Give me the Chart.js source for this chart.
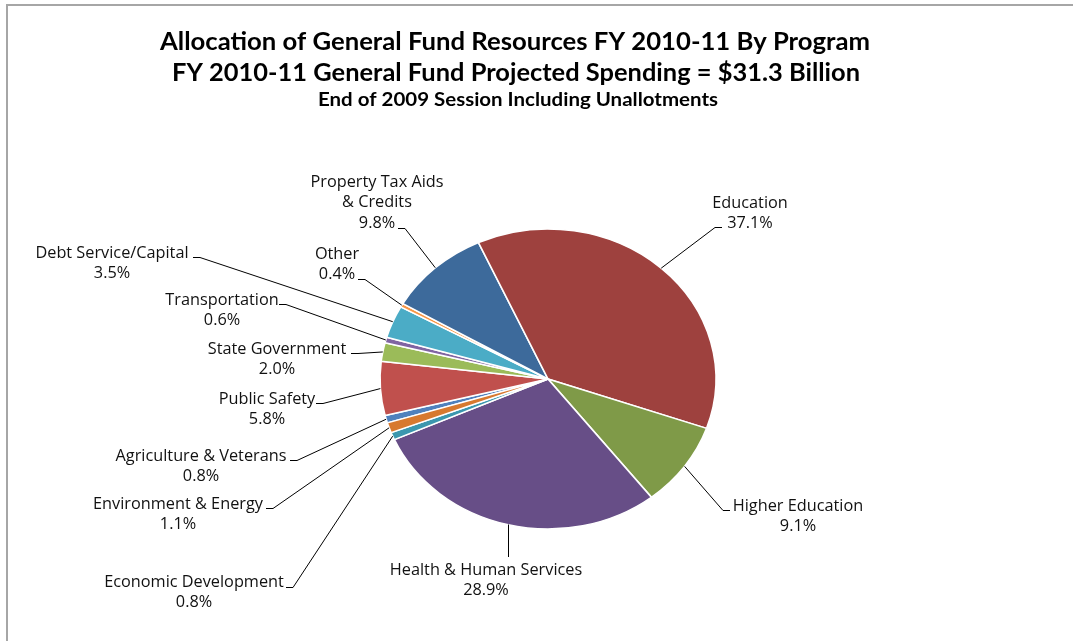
<!DOCTYPE html>
<html>
<head>
<meta charset="utf-8">
<script src="https://cdn.jsdelivr.net/npm/chart.js@4.4.0/dist/chart.umd.min.js"></script>
<style>
    html, body { margin: 0; padding: 0; background: #fff; }
    #wrap { width: 1073px; height: 641px; }
</style>
</head>
<body>
<div id="wrap"><canvas id="chartCanvas" width="1073" height="641"></canvas></div>
<script>
// Datos del grafico (en el orden de las porciones, sentido horario)
const programs = [
    "Agriculture & Veterans",
    "Public Safety",
    "State Government",
    "Transportation",
    "Debt Service/Capital",
    "Other",
    "Property Tax Aids\n& Credits",
    "Education",
    "Higher Education",
    "Health & Human Services",
    "Economic Development",
    "Environment & Energy"
];
const shares = [0.8, 5.8, 2.0, 0.6, 3.5, 0.4, 9.8, 37.1, 9.1, 28.9, 0.8, 1.1];
const sliceColors = [
    "#4F81BD", "#C0504D", "#9BBB59", "#8064A2", "#4BACC6", "#F79646",
    "#3D6A9B", "#9E413E", "#7F9A48", "#674E87", "#3B97AE", "#D7792F"
];
const titleLines = [
    "Allocation of General Fund Resources FY 2010-11 By Program",
    "FY 2010-11 General Fund Projected Spending = $31.3 Billion",
    "End of 2009 Session Including Unallotments"
];

// Posicion de las etiquetas: centro del texto, codo de la linea guia y lado del texto
const labelLayout = [
    { x: 201, y: 456, ex: 297, ey: 460, dir: -1 },
    { x: 267, y: 399, ex: 323, ey: 403, dir: -1 },
    { x: 277, y: 349, ex: 358, ey: 353, dir: -1 },
    { x: 222, y: 300, ex: 286, ey: 304, dir: -1 },
    { x: 112, y: 253, ex: 200, ey: 257, dir: -1 },
    { x: 337, y: 254, ex: 365, ey: 279, dir: -1 },
    { x: 377, y: 182, ex: 405, ey: 228, dir: -1 },
    { x: 750, y: 203, ex: 715, ey: 227, dir: 1 },
    { x: 798, y: 506, ex: 723, ey: 510, dir: 1 },
    { x: 486, y: 570, ex: 508, ey: 557, dir: 0 },
    { x: 194, y: 582, ex: 293, ey: 587, dir: -1 },
    { x: 178, y: 504, ex: 273, ey: 508, dir: -1 }
];
const titleLayout = [
    { x: 515, y: 42, w: 710, font: "bold 24px Lato" },
    { x: 516, y: 73, w: 688, font: "bold 24px Lato" },
    { x: 518, y: 100, w: 400, font: "bold 18px Lato" }
];
const stretchX = 1.12;   // la torta original esta estirada en horizontal

// Dibuja texto centrado ajustado a un ancho dado
function fitText(ctx, text, cx, cy, width, font) {
    ctx.font = font;
    const w = ctx.measureText(text).width;
    ctx.save();
    ctx.translate(cx, cy);
    ctx.scale(width / w, 1);
    ctx.fillText(text, 0, 0);
    ctx.restore();
}

const frameAndTitle = {
    id: "frameAndTitle",
    beforeDraw(chart) {
        const ctx = chart.ctx;
        ctx.save();
        ctx.fillStyle = "#fff";
        ctx.fillRect(0, 0, chart.width, chart.height);
        ctx.strokeStyle = "#A6A6A6";
        ctx.lineWidth = 2;
        ctx.strokeRect(7, 5, chart.width + 50, chart.height + 50);
        ctx.fillStyle = "#000";
        ctx.textAlign = "center";
        ctx.textBaseline = "middle";
        titleLines.forEach((line, i) => {
            const t = titleLayout[i];
            fitText(ctx, line, t.x, t.y, t.w, t.font);
        });
        ctx.restore();
    }
};

const stretchPie = {
    id: "stretchPie",
    beforeDatasetsDraw(chart) {
        const arc = chart.getDatasetMeta(0).data[0];
        const ctx = chart.ctx;
        ctx.save();
        ctx.translate(arc.x, 0);
        ctx.scale(stretchX, 1);
        ctx.translate(-arc.x, 0);
    },
    afterDatasetsDraw(chart) {
        chart.ctx.restore();
    }
};

const pieLabels = {
    id: "pieLabels",
    afterDraw(chart) {
        const ctx = chart.ctx;
        const arcs = chart.getDatasetMeta(0).data;
        ctx.save();
        ctx.strokeStyle = "#000";
        ctx.lineWidth = 1;
        ctx.fillStyle = "#111";
        ctx.font = "16.3px 'Open Sans'";
        ctx.textAlign = "center";
        ctx.textBaseline = "middle";
        arcs.forEach((arc, i) => {
            const pos = labelLayout[i];
            const mid = (arc.startAngle + arc.endAngle) / 2;
            const px = arc.x + stretchX * arc.outerRadius * Math.cos(mid);
            const py = arc.y + arc.outerRadius * Math.sin(mid);

            // Linea guia
            ctx.beginPath();
            if (pos.dir === 0) {
                ctx.moveTo(pos.ex + 0.5, py);
                ctx.lineTo(pos.ex + 0.5, pos.ey);
            } else {
                ctx.moveTo(px, py);
                ctx.lineTo(pos.ex, pos.ey + 0.5);
                ctx.lineTo(pos.ex + pos.dir * 7, pos.ey + 0.5);
            }
            ctx.stroke();

            // Texto
            const lines = programs[i].split("\n");
            lines.push(shares[i].toFixed(1) + "%");
            lines.forEach((line, j) => {
                ctx.fillText(line, pos.x, pos.y + j * 20.7);
            });
        });
        ctx.restore();
    }
};

new Chart(document.getElementById("chartCanvas"), {
    type: "pie",
    data: {
        labels: programs,
        datasets: [{
            data: shares,
            backgroundColor: sliceColors,
            borderColor: "#fff",
            borderWidth: 1.5,
            clip: false
        }]
    },
    options: {
        responsive: false,
        animation: false,
        rotation: -107,
        radius: 150,
        layout: { padding: { left: 398, right: 375, top: 229, bottom: 112 } },
        plugins: {
            legend: { display: false },
            tooltip: { enabled: false },
            title: { display: false }
        }
    },
    plugins: [frameAndTitle, stretchPie, pieLabels]
});
</script>
</body>
</html>
